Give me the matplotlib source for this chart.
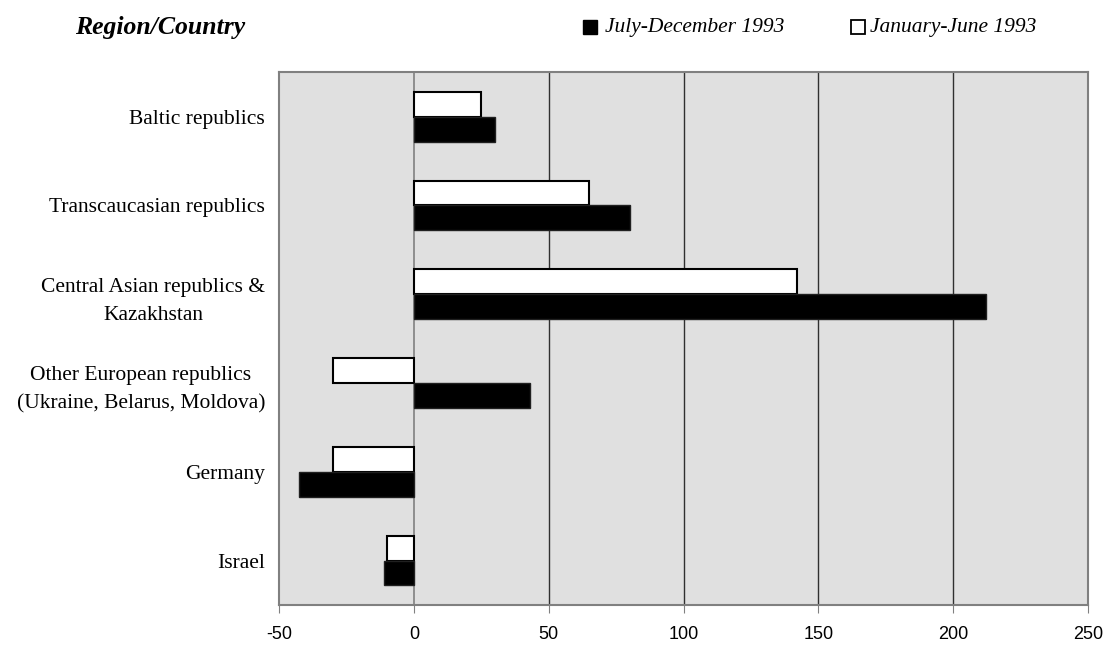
import numpy as np
import matplotlib.pyplot as plt
from matplotlib.lines import Line2D

# values
categories = ["Baltic republics",
              "Transcaucasian republics",
              "Central Asian republics &\nKazakhstan",
              "Other European republics\n(Ukraine, Belarus, Moldova)",
              "Germany",
              "Israel"]
jan_jun_1993 = [25, 65, 142, -30, -30, -10]
jul_dec_1993 = [30, 80, 212, 43, -42.5, -11]
x_ticks = [-50, 0, 50, 100, 150, 200, 250]

serif = ["Liberation Serif", "DejaVu Serif"]
sans = ["Liberation Sans", "DejaVu Sans"]

fig = plt.figure(figsize=(11.07, 6.45), dpi=100)
ax = fig.add_axes([0.252, 0.062, 0.731, 0.826])
ax.set_facecolor("#e0e0e0")

y = np.arange(len(categories))
h = 0.28
ax.barh(y - h / 2, jan_jun_1993, height=h, color="white", edgecolor="black",
        linewidth=1.5, zorder=3)
ax.barh(y + h / 2, jul_dec_1993, height=h, color="black", edgecolor="#202020",
        linewidth=1, zorder=3)

ax.set_xlim(-50, 250)
ax.set_ylim(len(categories) - 0.5, -0.5)
ax.set_xticks(x_ticks)
ax.set_xticklabels([str(t) for t in x_ticks], family=sans, fontsize=13)
ax.set_yticks(y)
ax.set_yticklabels(categories, family=serif, fontsize=15.5, linespacing=1.65)
for lab in ax.get_yticklabels():
    lab.set_horizontalalignment("right")
    lab.set_multialignment("center")
ax.tick_params(axis="y", length=0, pad=10)
ax.tick_params(axis="x", length=6, color="#808080", pad=9)

# vertical grid lines, zero line in grey
for t in x_ticks[2:-1]:
    ax.axvline(t, color="#303030", linewidth=1, zorder=1)
ax.axvline(0, color="#808080", linewidth=1.2, zorder=1)

for s in ax.spines.values():
    s.set_color("#808080")
    s.set_linewidth(1.5)

# header and legend
fig.text(0.068, 0.947, "Region/Country", family=serif, fontsize=18.5,
         fontweight="bold", fontstyle="italic", va="baseline")
fig.text(0.5465, 0.950, "July-December 1993", family=serif, fontsize=15.5,
         fontstyle="italic", va="baseline")
fig.text(0.786, 0.950, "January-June 1993", family=serif, fontsize=15.5,
         fontstyle="italic", va="baseline")
fig.add_artist(Line2D([0.533], [0.958], marker="s", markersize=10,
                      color="black", transform=fig.transFigure))
fig.add_artist(Line2D([0.775], [0.958], marker="s", markersize=10,
                      markerfacecolor="white", markeredgecolor="black",
                      markeredgewidth=1.3, transform=fig.transFigure))

fig.savefig("out.png", dpi=100)
